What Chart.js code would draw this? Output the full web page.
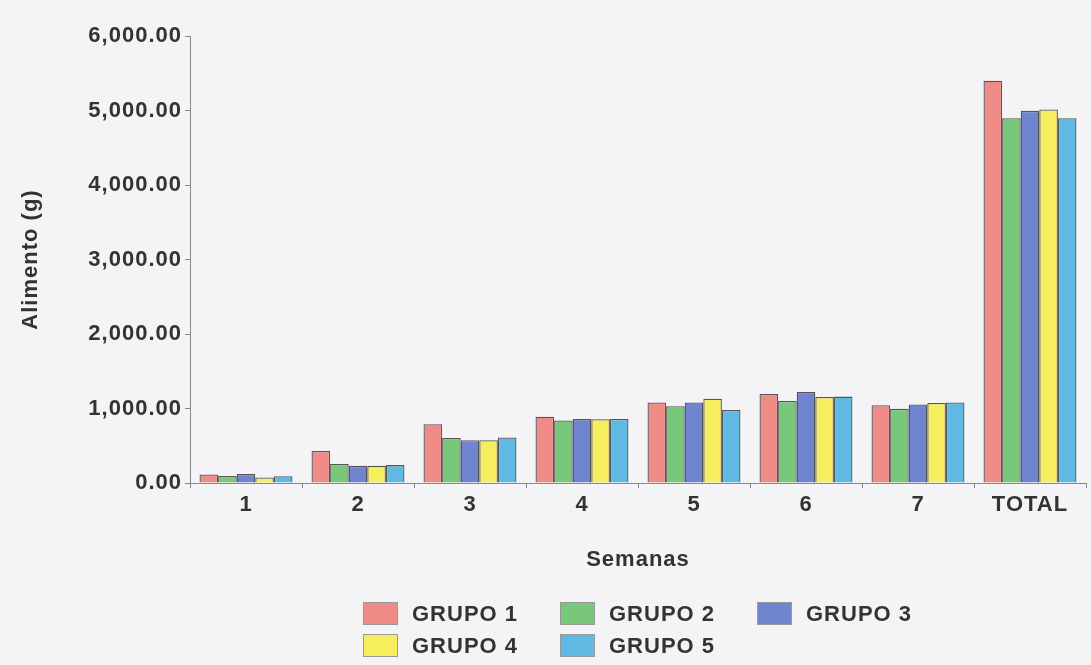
<!DOCTYPE html>
<html>
<head>
<meta charset="utf-8">
<script src="https://cdn.jsdelivr.net/npm/chart.js@4"></script>
<style>
  body { margin: 0; background: #f4f4f6; }
  #wrap { position: relative; width: 1091px; height: 665px; }
  #legend {
    position: absolute; left: 363px; top: 601px;
    display: grid; grid-template-columns: 197px 197px auto; row-gap: 7px;
    font: bold 22px "Liberation Sans", Arial, sans-serif; color: #333; letter-spacing: 1px;
  }
  .item { display: flex; align-items: center; height: 25px; }
  .box { width: 35px; height: 23px; border: 1px solid #999; margin-right: 14px; box-sizing: border-box; }
</style>
</head>
<body>
<div id="wrap">
  <canvas id="chart" width="1091" height="665"></canvas>
  <div id="legend"></div>
</div>
<script>
// datos (g de alimento por semana)
const semanas = ['1', '2', '3', '4', '5', '6', '7', 'TOTAL'];
const grupo1 = [115, 430, 790, 890, 1080, 1195, 1045, 5400];
const grupo2 = [95, 255, 605, 840, 1030, 1100, 995, 4895];
const grupo3 = [120, 230, 575, 860, 1080, 1220, 1055, 4995];
const grupo4 = [75, 230, 575, 855, 1130, 1155, 1075, 5015];
const grupo5 = [90, 240, 610, 860, 980, 1160, 1080, 4895];
const nombres = ['GRUPO 1', 'GRUPO 2', 'GRUPO 3', 'GRUPO 4', 'GRUPO 5'];
const colores = ['#ef8a87', '#79c77a', '#6f85cf', '#f6ee5c', '#5fb9e3'];
const yTicks = [0, 1000, 2000, 3000, 4000, 5000, 6000];

const series = [grupo1, grupo2, grupo3, grupo4, grupo5];
const fuente = { family: '"Liberation Sans", Arial, sans-serif', size: 22, weight: 'bold' };

// un poco de espacio entre letras, como en la figura escaneada
const espaciado = {
    id: 'espaciado',
    beforeUpdate: c => { c.ctx.letterSpacing = '1px'; },
    beforeDraw: c => { c.ctx.letterSpacing = '1px'; }
};

const ctx = document.getElementById('chart').getContext('2d');
new Chart(ctx, {
    type: 'bar',
    data: {
        labels: semanas,
        datasets: series.map((s, i) => ({
            label: nombres[i],
            data: s,
            backgroundColor: colores[i],
            borderColor: '#555',
            borderWidth: 1.3,
            categoryPercentage: 0.83,
            barPercentage: 1
        }))
    },
    options: {
        responsive: false,
        animation: false,
        layout: { padding: { top: 36, right: 5, bottom: 82, left: 0 } },
        plugins: { legend: { display: false }, tooltip: { enabled: false } },
        scales: {
            x: {
                grid: { drawOnChartArea: false, drawTicks: true, tickLength: 5, color: '#888' },
                border: { color: '#888', width: 1 },
                ticks: { font: fuente, color: '#333', padding: 4 },
                title: { display: true, text: 'Semanas', font: fuente, color: '#333', padding: { top: 0, bottom: 10 } },
                afterFit: s => { s.height = 100; }
            },
            y: {
                min: 0,
                max: 6000,
                afterBuildTicks: s => { s.ticks = yTicks.map(v => ({ value: v })); },
                grid: { drawOnChartArea: false, drawTicks: true, tickLength: 5, color: '#888' },
                border: { color: '#888', width: 1 },
                ticks: {
                    font: fuente, color: '#333', padding: 3,
                    callback: v => v.toLocaleString('en-US', { minimumFractionDigits: 2, maximumFractionDigits: 2 })
                },
                title: { display: true, text: 'Alimento (g)', font: fuente, color: '#333', padding: { top: 18, bottom: 0 } },
                afterFit: s => { s.width = 190; }
            }
        }
    },
    plugins: [espaciado]
});

// leyenda en html
const leg = document.getElementById('legend');
nombres.forEach((n, i) => {
    const it = document.createElement('div');
    it.className = 'item';
    it.innerHTML = '<span class="box" style="background:' + colores[i] + '"></span>' + n;
    leg.appendChild(it);
});
</script>
</body>
</html>
